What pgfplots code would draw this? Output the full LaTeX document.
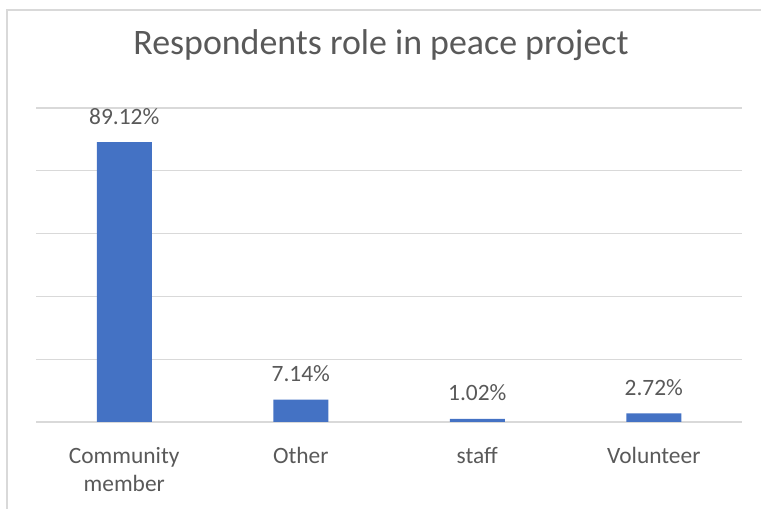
\documentclass[border=0pt]{standalone}
\usepackage{fontspec}
\setmainfont{Carlito}
\usepackage{pgfplots}
\pgfplotsset{compat=1.18}
\definecolor{barblue}{HTML}{4472C4}
\definecolor{txt}{HTML}{595959}
\definecolor{gridc}{HTML}{D9D9D9}
\begin{document}
\begin{tikzpicture}[x=1bp,y=1bp]
\path[use as bounding box] (0,0) rectangle (761,509);
\draw[gridc, line width=1.2bp] (7,0) -- (7,499) -- (761,499);
\node[text=txt, font=\fontsize{36}{42}\selectfont, anchor=base, inner sep=0] at (381,454) {Respondents role in peace project};
\begin{axis}[
  at={(36bp,87bp)}, anchor=south west,
  scale only axis, width=706bp, height=314bp,
  xmin=-0.5, xmax=3.5, ymin=0, ymax=100,
  axis line style={draw=none},
  ytick={0,20,40,60,80,100}, yticklabels={},
  ymajorgrids, grid style={gridc, line width=1.2bp},
  major tick length=0,
  xtick=data,
  xticklabels={{Community\\member},Other,staff,Volunteer},
  xticklabel style={align=center, text=txt, font=\fontsize{23.5}{28}\selectfont, inner sep=0, yshift=-25bp},
  ybar, bar width=55bp,
  /pgf/number format/assume math mode=true,
  nodes near coords={\pgfmathprintnumber[fixed,precision=2,fixed zerofill,assume math mode=true]{\pgfplotspointmeta}\%},
  nodes near coords style={text=txt, font=\fontsize{23.5}{28}\selectfont, anchor=base, inner sep=0, yshift=18bp},
]
\addplot[fill=barblue, draw=none] coordinates {(0,89.12) (1,7.14) (2,1.02) (3,2.72)};
\end{axis}
\end{tikzpicture}
\end{document}
